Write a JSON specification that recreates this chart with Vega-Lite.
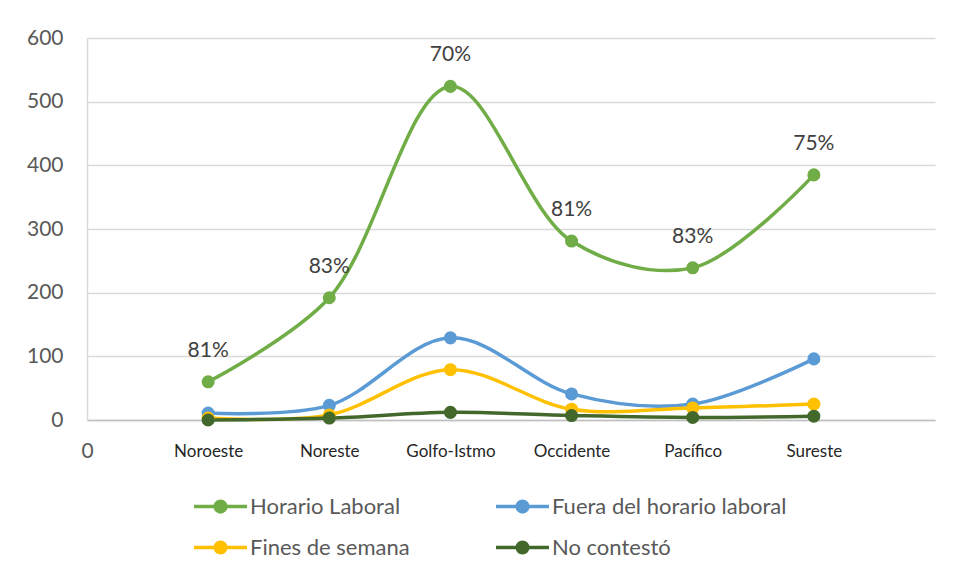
{
  "$schema": "https://vega.github.io/schema/vega-lite/v6.json",
  "width": 848,
  "height": 382,
  "autosize": {"type": "none"},
  "padding": {"left": 87, "top": 38, "right": 21, "bottom": 161},
  "background": "white",
  "config": {
    "view": {"stroke": null},
    "font": "Lato"
  },
  "data": {
    "values": [
      {"region": "Noroeste", "serie": "Horario Laboral", "valor": 60, "pct": "81%"},
      {"region": "Noreste", "serie": "Horario Laboral", "valor": 192, "pct": "83%"},
      {"region": "Golfo-Istmo", "serie": "Horario Laboral", "valor": 524, "pct": "70%"},
      {"region": "Occidente", "serie": "Horario Laboral", "valor": 281, "pct": "81%"},
      {"region": "Pacífico", "serie": "Horario Laboral", "valor": 239, "pct": "83%"},
      {"region": "Sureste", "serie": "Horario Laboral", "valor": 385, "pct": "75%"},
      {"region": "Noroeste", "serie": "Fuera del horario laboral", "valor": 11},
      {"region": "Noreste", "serie": "Fuera del horario laboral", "valor": 23},
      {"region": "Golfo-Istmo", "serie": "Fuera del horario laboral", "valor": 129},
      {"region": "Occidente", "serie": "Fuera del horario laboral", "valor": 41},
      {"region": "Pacífico", "serie": "Fuera del horario laboral", "valor": 25},
      {"region": "Sureste", "serie": "Fuera del horario laboral", "valor": 96},
      {"region": "Noroeste", "serie": "Fines de semana", "valor": 3},
      {"region": "Noreste", "serie": "Fines de semana", "valor": 8},
      {"region": "Golfo-Istmo", "serie": "Fines de semana", "valor": 79},
      {"region": "Occidente", "serie": "Fines de semana", "valor": 17},
      {"region": "Pacífico", "serie": "Fines de semana", "valor": 19},
      {"region": "Sureste", "serie": "Fines de semana", "valor": 25},
      {"region": "Noroeste", "serie": "No contestó", "valor": 0},
      {"region": "Noreste", "serie": "No contestó", "valor": 3},
      {"region": "Golfo-Istmo", "serie": "No contestó", "valor": 12},
      {"region": "Occidente", "serie": "No contestó", "valor": 7},
      {"region": "Pacífico", "serie": "No contestó", "valor": 4},
      {"region": "Sureste", "serie": "No contestó", "valor": 6}
    ]
  },
  "encoding": {
    "x": {
      "field": "region",
      "type": "ordinal",
      "sort": null,
      "scale": {"type": "point", "padding": 1},
      "axis": {
        "title": "0",
        "titleAnchor": "start",
        "titleAlign": "center",
        "titleBaseline": "middle",
        "titleX": 0,
        "titleY": 31,
        "titleFont": "Lato",
        "titleFontSize": 21,
        "titleFontWeight": "normal",
        "titleColor": "#595959",
        "labelAngle": 0,
        "labelFont": "Lato",
        "labelFontSize": 17,
        "labelColor": "#262626",
        "labelPadding": 23,
        "ticks": false,
        "domainColor": "#bfbfbf",
        "domainWidth": 1.5,
        "grid": false
      }
    },
    "y": {
      "field": "valor",
      "type": "quantitative",
      "scale": {"domain": [0, 600], "nice": false},
      "axis": {
        "title": null,
        "values": [0, 100, 200, 300, 400, 500, 600],
        "labelFont": "Lato",
        "labelFontSize": 21,
        "labelColor": "#595959",
        "labelPadding": 24,
        "ticks": false,
        "domainColor": "#d9d9d9",
        "domainWidth": 1.5,
        "gridColor": "#d9d9d9",
        "gridWidth": 1.5
      }
    },
    "color": {
      "field": "serie",
      "type": "nominal",
      "sort": null,
      "scale": {
        "domain": ["Horario Laboral", "Fuera del horario laboral", "Fines de semana", "No contestó"],
        "range": ["#70AD47", "#5B9BD5", "#FFC000", "#43682B"]
      },
      "legend": {
        "title": null,
        "orient": "none",
        "direction": "horizontal",
        "legendX": 105,
        "legendY": 440,
        "columns": 2,
        "columnPadding": 79,
        "rowPadding": -3,
        "symbolType": "M-1,0H1M-0.2,0A0.2,0.2 0 1,1 0.2,0A0.2,0.2 0 1,1 -0.2,0Z",
        "symbolSize": 2809,
        "symbolStrokeWidth": 3.5,
        "symbolOpacity": 1,
        "labelFont": "Lato",
        "labelFontSize": 22,
        "labelColor": "#595959",
        "labelOffset": 1,
        "labelLimit": 400
      }
    }
  },
  "layer": [
    {
      "mark": {"type": "line", "interpolate": "catmull-rom", "strokeWidth": 3.5}
    },
    {
      "mark": {"type": "circle", "size": 170, "opacity": 1}
    },
    {
      "transform": [{"filter": "datum.pct != null"}],
      "mark": {"type": "text", "dy": -31, "font": "Lato", "fontSize": 21, "color": "#404040"},
      "encoding": {
        "text": {"field": "pct"},
        "color": {"value": "#404040"}
      }
    }
  ]
}
